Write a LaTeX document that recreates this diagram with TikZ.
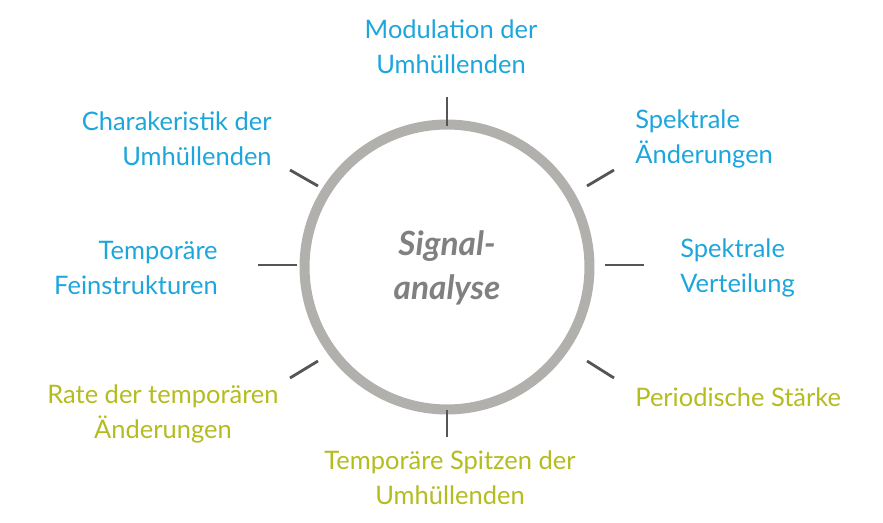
\documentclass[tikz,border=0pt]{standalone}
\usepackage{fontspec}
\setmainfont{Lato}
\usetikzlibrary{positioning}
\definecolor{topicblue}{HTML}{1DA6DC}
\definecolor{topiclime}{HTML}{B4BC1E}
\definecolor{ringgray}{HTML}{B1B0AC}
\definecolor{tickgray}{HTML}{555555}
\tikzset{
    topic/.style={font=\fontsize{14.5}{20}\selectfont, inner sep=0pt},
    blue topic/.style={topic, text=topicblue},
    lime topic/.style={topic, text=topiclime},
    tick/.style={draw=tickgray, line width=1.6pt},
}
\begin{document}
\begin{tikzpicture}[x=0.02cm, y=-0.02cm]
    \useasboundingbox (0,0) rectangle (883,523);

    \node[circle, draw=ringgray, line width=5.7pt, minimum size=5.7cm] (ring) at (447,267) {};
    \node[text=gray, font=\fontsize{19}{25}\selectfont\bfseries\itshape, align=center] (core) at (447,268) {Signal-\\analyse};

    % ticks around the ring
    \draw[tick] (447,97) -- (447,126);
    \draw[tick] (587,186) -- (614,170);
    \draw[tick] (605,265) -- (644,265);
    \draw[tick] (587,361) -- (614,378);
    \draw[tick] (447,410) -- (447,437);
    \draw[tick] (318,361) -- (290,378);
    \draw[tick] (258,265) -- (297,265);
    \draw[tick] (290,170) -- (318,186);

    \node[blue topic, align=center] (mod) at (451,47) {Modulation der\\Umhüllenden};
    \node[blue topic, align=left, anchor=west] (spekaend) at (635,139) {Spektrale\\Änderungen};
    \node[blue topic, align=left, anchor=west] (spekvert) at (680,268) {Spektrale\\Verteilung};
    \node[blue topic, align=right, anchor=east] (charak) at (272,139) {Charakeristik der\\Umhüllenden};
    \node[blue topic, align=right, anchor=east] (fein) at (218,268) {Temporäre\\Feinstrukturen};
    \node[lime topic, align=center] (rate) at (163,414) {Rate der temporären\\Änderungen};
    \node[lime topic, anchor=west] (period) at (635,397) {Periodische Stärke};
    \node[lime topic, align=center] (spitzen) at (450,478) {Temporäre Spitzen der\\Umhüllenden};
\end{tikzpicture}
\end{document}
